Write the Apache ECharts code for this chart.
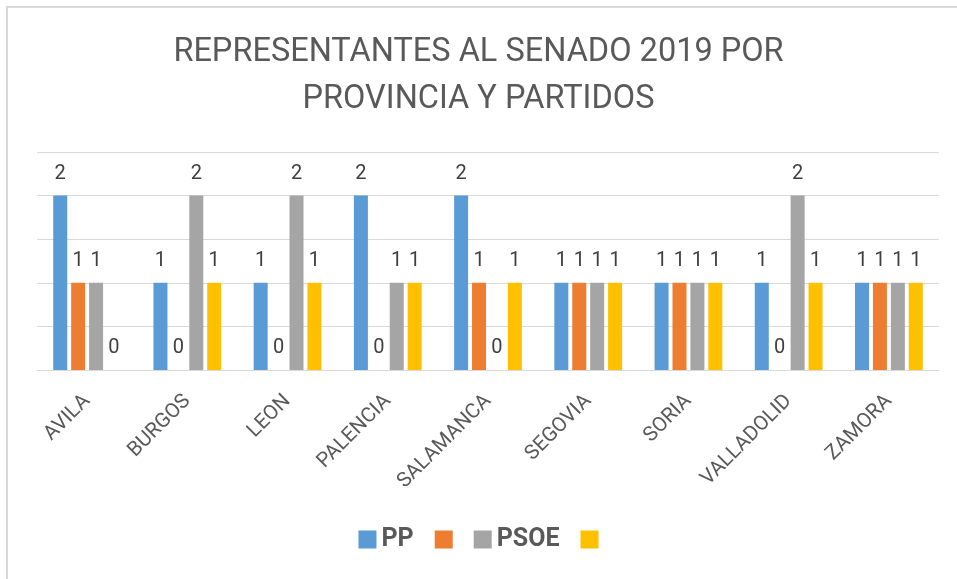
<!DOCTYPE html>
<html>
<head>
<meta charset="utf-8">
<script src="https://cdn.jsdelivr.net/npm/echarts@6/dist/echarts.min.js"></script>
<style>
html,body{margin:0;padding:0;background:#fff;}
#chart{width:957px;height:579px;}
</style>
</head>
<body>
<div id="chart"></div>
<script>
var titleText = 'REPRESENTANTES AL SENADO 2019 POR\nPROVINCIA Y PARTIDOS';
var categories = ['AVILA','BURGOS','LEON','PALENCIA','SALAMANCA','SEGOVIA','SORIA','VALLADOLID','ZAMORA'];
var seriesNames = ['PP', 'Serie 2', 'PSOE', 'Serie 4'];
var legendLabels = ['PP', '', 'PSOE', ''];
var ppValues    = [2,1,1,2,2,1,1,1,1];
var serie2Values = [1,0,0,0,1,1,1,0,1];
var psoeValues  = [1,2,2,1,0,1,1,2,1];
var serie4Values = [0,1,1,1,1,1,1,1,1];
var colors = ['#5B9BD5','#ED7D31','#A5A5A5','#FFC000'];
var yTicks = [0, 0.5, 1, 1.5, 2, 2.5];

var allValues = [ppValues, serie2Values, psoeValues, serie4Values];
var chart = echarts.init(document.getElementById('chart'));
var series = seriesNames.map(function(n, i){
  return {
    name: n,
    type: 'bar',
    data: allValues[i],
    barWidth: 14,
    barGap: '28%',
    itemStyle: {color: colors[i]},
    label: {
      show: true, position: 'top', distance: 12,
      color: '#404040', fontSize: 20, fontFamily: 'Roboto'
    }
  };
});
var labelMap = {};
seriesNames.forEach(function(n,i){ labelMap[n] = legendLabels[i]; });

chart.setOption({
  animation: false,
  color: colors,
  title: {
    text: titleText,
    left: 'center',
    top: 29,
    padding: [0,0,0,20],
    textStyle: {
      color: '#595959', fontSize: 32.5, fontWeight: 'normal',
      fontFamily: 'Roboto', lineHeight: 47
    }
  },
  legend: {
    data: seriesNames,
    left: 'center',
    top: 527,
    padding: [0,0,0,32],
    itemWidth: 18, itemHeight: 18, itemGap: 21,
    icon: 'rect',
    formatter: function(n){ return labelMap[n]; },
    textStyle: {color: '#595959', fontSize: 25, fontWeight: 'bold', fontFamily: 'Roboto'}
  },
  grid: {left: 37, right: 18, top: 152, bottom: 209, containLabel: false},
  xAxis: {
    type: 'category',
    data: categories,
    axisLine: {lineStyle: {color: '#d9d9d9', width: 1}},
    axisTick: {show: false},
    axisLabel: {
      rotate: 45, interval: 0, margin: 28,
      color: '#595959', fontSize: 20.5, fontFamily: 'Roboto'
    }
  },
  yAxis: {
    type: 'value',
    min: yTicks[0], max: yTicks[yTicks.length-1], interval: 0.5,
    axisLabel: {show: false},
    axisLine: {show: false},
    axisTick: {show: false},
    splitLine: {lineStyle: {color: '#d9d9d9', width: 1}}
  },
  graphic: [{
    type: 'rect',
    shape: {x: 7, y: 7, width: 1000, height: 700},
    style: {fill: 'none', stroke: '#d9d9d9', lineWidth: 2},
    silent: true, z: -10
  }],
  series: series
});
</script>
</body>
</html>
